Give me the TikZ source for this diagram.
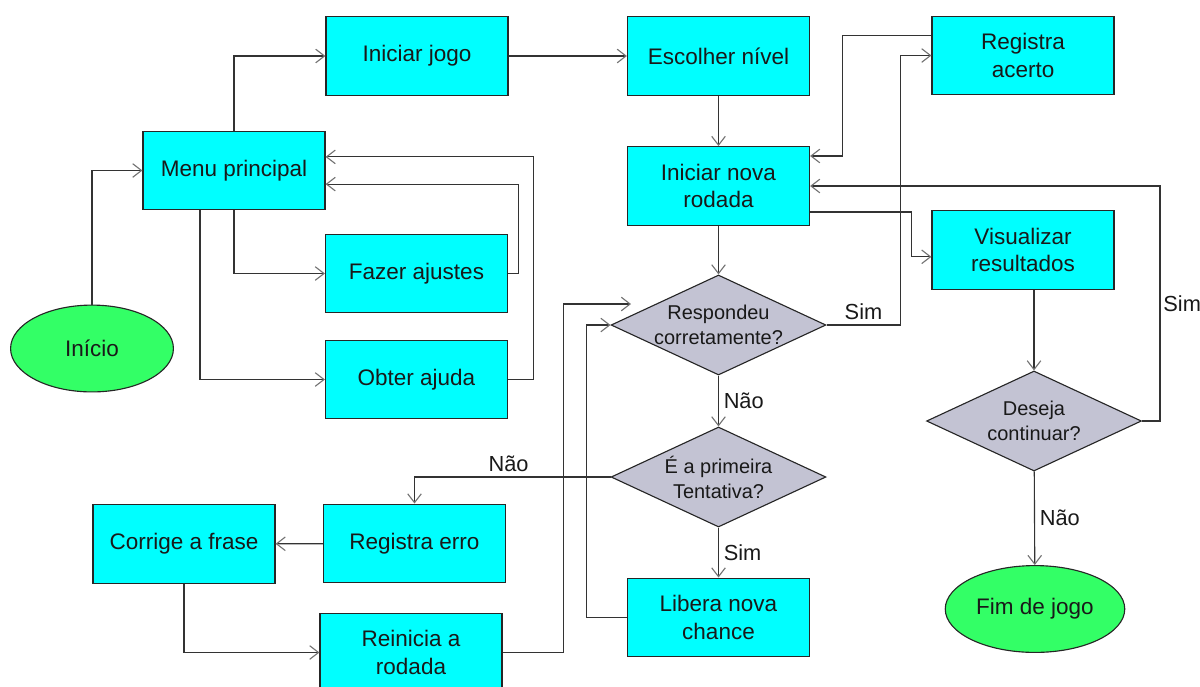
\documentclass[tikz,border=0pt]{standalone}
\usepackage{fontspec}
\setmainfont{Liberation Sans}
\usetikzlibrary{shapes.geometric,arrows.meta}
\definecolor{boxcyan}{RGB}{0,255,255}
\definecolor{decgray}{RGB}{195,195,211}
\definecolor{termgreen}{RGB}{51,255,102}
\newcommand{\dlinha}[1]{\makebox[0pt]{#1}}

\begin{document}
\begin{tikzpicture}[x=0.025cm,y=-0.025cm,
	>={Straight Barb[length=2.2mm,width=3.4mm,color=black!55]},
	line/.style={draw=black!80,line width=0.8pt},
	caixa/.style={rectangle,draw=black!85,line width=0.8pt,fill=boxcyan,minimum width=4.55cm,minimum height=1.97cm,align=center,text=black!90,font=\fontsize{16}{19.5}\selectfont},
	decisao/.style={diamond,draw=black!85,line width=0.8pt,fill=decgray,minimum width=5.37cm,minimum height=2.5cm,inner sep=0pt,align=center,text=black!90,font=\fontsize{14.2}{17.7}\selectfont},
	terminal/.style={ellipse,draw=black!85,line width=0.8pt,fill=termgreen,minimum width=4.07cm,minimum height=2.17cm,text=black!90,font=\fontsize{16}{19.5}\selectfont},
	rotulo/.style={text=black!90,font=\fontsize{15.5}{19.5}\selectfont}]
	\useasboundingbox (0,0) rectangle (1200,686);
	\node[terminal] (inicio) at (92,348.5) {Início};
	\node[caixa] (menu) at (234,170.5) {Menu principal};
	\node[caixa] (jogo) at (417,56) {Iniciar jogo};
	\node[caixa] (ajustes) at (416.5,273.5) {Fazer ajustes};
	\node[caixa] (ajuda) at (416.5,379.5) {Obter ajuda};
	\node[caixa] (nivel) at (718.5,56) {Escolher nível};
	\node[caixa] (rodada) at (718.5,186) {Iniciar nova\\rodada};
	\node[caixa] (acerto) at (1023,55.5) {Registra\\acerto};
	\node[caixa] (result) at (1023,250) {Visualizar\\resultados};
	\node[decisao] (resp) at (718.5,325) {\dlinha{Respondeu}\\\dlinha{corretamente?}};
	\node[decisao] (primeira) at (718.5,477) {\dlinha{É a primeira}\\\dlinha{Tentativa?}};
	\node[decisao] (deseja) at (1034,421) {\dlinha{Deseja}\\\dlinha{continuar?}};
	\node[caixa] (libera) at (718.5,617.5) {Libera nova\\chance};
	\node[caixa] (erro) at (414.5,543.5) {Registra erro};
	\node[caixa] (corrige) at (184,544) {Corrige a frase};
	\node[caixa] (reinicia) at (411,652.5) {Reinicia a\\rodada};
	\node[terminal] (fim) at (1035,609) {Fim de jogo};
	\coordinate (retorno) at (631,304);
	\draw[line,->] (inicio.north) |- (menu.west);
	\draw[line,->] (menu.north) |- (jogo.west);
	\draw[line,->] (jogo) -- (nivel);
	\draw[line,->] (nivel) -- (rodada);
	\draw[line,->] (menu.south) |- (ajustes.west);
	\draw[line,->] ([xshift=-0.85cm]menu.south) |- (ajuda.west);
	\draw[line,->] (ajustes.east) -- ++(10,0) |- ([yshift=-0.34cm]menu.east);
	\draw[line,->] (ajuda.east) -- ++(25,0) |- ([yshift=0.34cm]menu.east);
	\draw[line,->] ([yshift=-0.65cm]rodada.east) -- ++(101,0) |- ([yshift=-0.17cm]result.west);
	\draw[line,->] (rodada) -- (resp);
	\draw[line,->] (resp.east) -- ++(74,0) node[rotulo,midway,above] {Sim} |- (acerto.west);
	\draw[line,->] ([yshift=0.49cm]acerto.west) -- ++(-89,0) |- ([yshift=0.75cm]rodada.east);
	\draw[line,->] (result.south -| deseja.north) -- (deseja.north);
	\draw[line,->] (deseja.east) -- ++(18,0) |- node[rotulo,pos=0.25,right,inner sep=2pt] {Sim} (rodada.east);
	\draw[line,->] (deseja) -- node[rotulo,right] {Não} (fim);
	\draw[line,->] (resp) -- node[rotulo,right] {Não} (primeira);
	\draw[line,->] (primeira) -- node[rotulo,right] {Sim} (libera);
	\draw[line,->] (primeira.west) -| node[rotulo,pos=0.26,above] {Não} (erro.north);
	\draw[line,->] (erro) -- (corrige);
	\draw[line,->] (corrige.south) |- (reinicia.west);
	\draw[line,->] (reinicia.east) -- ++(61,0) |- (retorno);
	\draw[line,->] (libera.west) -- ++(-40,0) |- (resp.west);
\end{tikzpicture}
\end{document}
